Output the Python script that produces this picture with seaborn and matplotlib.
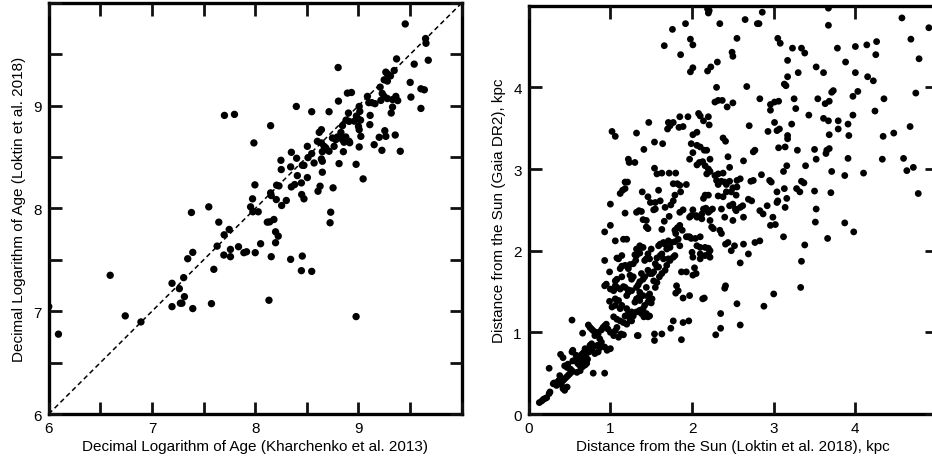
import matplotlib
matplotlib.use("Agg")
import matplotlib.pyplot as plt
import seaborn as sns
import pandas as pd
from matplotlib.ticker import MultipleLocator, FixedLocator

# ---------------- data: left panel (log age) ----------------
age_kharchenko = [
    9.453, 9.650, 9.654, 9.676, 9.540, 9.369, 8.803, 9.501, 9.605, 9.638, 9.508, 9.605,
    9.346, 9.265, 9.28, 9.31, 9.249, 9.28, 9.210, 9.249, 9.28, 9.33, 9.362, 9.38, 9.330, 9.317,
    9.255, 9.265, 9.356, 9.405, 9.227, 9.201, 9.152,
    9.087, 9.10, 9.13, 9.16, 9.217, 9.23, 9.113, 9.110,
    8.932, 8.893, 8.806,
    9.007, 9.013, 8.98, 8.99, 9.02, 8.96,
    8.903, 8.909, 8.88,
    9.000, 9.007, 9.023, 9.007, 9.045, 8.977, 8.977, 8.909, 8.915,
    8.845, 8.83, 8.796, 8.83, 8.845, 8.877, 8.86, 8.854, 8.812,
    8.748, 8.78, 8.764, 8.715, 8.715,
    8.641, 8.62, 8.602, 8.641, 8.667, 8.683, 8.650, 8.641, 8.650, 8.650, 8.628, 8.608, 8.754,
    8.731, 8.725,
    8.547, 8.505, 8.547, 8.570, 8.511, 8.505, 8.398, 8.401, 8.350, 8.343, 8.456, 8.472, 8.408,
    8.382, 8.350, 8.447, 8.450, 8.472, 8.249, 8.252, 8.149, 8.207, 8.23, 8.149, 8.155, 8.204,
    8.301, 8.256, 7.997, 7.974, 7.955, 7.977, 8.029, 7.987, 8.117, 8.14, 8.181, 8.197, 8.223,
    8.197, 8.052, 8.155, 8.133, 8.343, 8.456, 8.447, 8.547, 7.702, 7.799, 7.550, 7.647, 7.748,
    7.699, 7.631, 7.760, 7.838, 7.890, 7.916, 8.000, 7.696, 7.760, 7.599, 7.576, 7.382, 7.395,
    7.346, 7.307, 7.314, 7.194, 7.265, 7.275, 7.29, 7.194, 7.395, 6.595, 6.741, 6.893, 6.094,
    6.0,
]
age_loktin = [
    9.796, 9.654, 9.608, 9.443, 9.405, 9.456, 9.372, 9.227, 9.165, 9.155, 9.084, 8.974,
    9.343, 9.327, 9.31, 9.29, 9.252, 9.24, 9.181, 9.091, 9.07, 9.06, 9.091, 9.05, 8.987, 8.929,
    8.757, 8.702, 8.715, 8.557, 8.566, 8.693, 8.621,
    9.091, 9.03, 9.03, 9.02, 9.052, 9.12, 8.906, 8.816,
    9.129, 9.123, 9.045,
    8.993, 8.945, 8.90, 8.88, 8.86, 8.85,
    8.929, 8.848, 8.86,
    8.799, 8.767, 8.702, 8.599, 8.288, 8.430, 6.948, 8.654, 8.64,
    8.806, 8.74, 8.696, 8.69, 8.67, 8.696, 8.645, 8.553, 8.437,
    8.686, 8.67, 8.605, 8.557, 8.942,
    8.767, 8.741, 8.654, 8.638, 8.605, 8.59, 8.553, 8.482, 8.46, 8.353, 8.217, 8.168, 8.201,
    7.964, 7.861,
    8.942, 8.605, 8.534, 8.443, 8.495, 8.301, 8.993, 8.489, 8.547, 8.405, 8.421, 8.42, 8.320,
    8.233, 8.210, 8.249, 8.136, 8.094, 8.469, 8.379, 8.806, 8.227, 8.22, 8.152, 8.126, 8.087,
    8.078, 8.029, 8.230, 8.094, 8.016, 7.968, 7.968, 8.638, 7.867, 7.87, 7.893, 7.773, 7.731,
    7.667, 7.657, 7.531, 7.107, 7.505, 7.537, 7.395, 7.388, 8.906, 8.916, 8.016, 7.867, 7.796,
    7.744, 7.634, 7.602, 7.628, 7.570, 7.579, 7.570, 7.547, 7.531, 7.408, 7.074, 7.961, 7.573,
    7.511, 7.327, 7.142, 7.272, 7.220, 7.078, 7.078, 7.045, 7.026, 7.350, 6.955, 6.896, 6.777,
    7.045,
]
diagonal = [6, 10]

# ---------------- data: right panel (distances, kpc) ----------------
dist_pts = [
    # y >= 4
    (2.21,4.94),(2.20,4.91),(2.19,4.96),(2.34,4.78),(2.65,4.83),(2.80,4.78),(2.82,4.78),(2.86,4.92),
    (2.55,4.60),(2.50,4.38),(2.49,4.43),(2.31,4.31),(2.23,4.25),(2.19,4.20),(3.67,4.97),(3.67,4.76),
    (3.05,4.60),(3.08,4.54),(3.23,4.48),(3.34,4.48),(3.38,4.42),(3.17,4.33),(3.17,4.13),(3.13,4.04),
    (3.15,4.02),(3.30,4.18),(3.52,4.25),(3.61,4.18),(3.78,4.48),(3.88,4.31),(4.00,4.50),(4.14,4.52),
    (4.26,4.56),(4.25,4.40),(4.00,4.18),(4.15,4.13),(4.22,4.08),(4.57,4.85),(4.68,4.59),(4.78,4.35),
    (4.90,4.73),(2.30,4.00),(2.67,4.01),(1.66,4.51),(1.76,4.71),(1.92,4.78),(1.86,4.40),(1.98,4.59),
    (2.01,4.52),(2.01,4.24),(1.98,4.19),
    # 3 <= y < 4
    (1.02,3.46),(1.06,3.40),(1.32,3.44),(1.41,3.24),(1.22,3.12),(1.23,3.08),(1.30,3.08),(1.47,3.57),
    (1.54,3.33),(1.64,3.31),(1.71,3.57),(1.77,3.57),(1.73,3.53),(1.70,3.49),(1.85,3.64),(1.95,3.64),
    (1.84,3.51),(1.89,3.52),(2.08,3.68),(2.10,3.65),(2.14,3.59),(2.20,3.64),(2.21,3.54),(2.01,3.42),
    (2.06,3.45),(1.99,3.31),(2.06,3.29),(2.10,3.27),(2.15,3.23),(2.18,3.23),(2.01,3.20),(1.97,3.12),
    (2.09,3.08),(2.13,3.09),(2.16,3.04),(2.20,3.00),(2.06,3.05),(2.22,3.12),(1.54,3.01),(2.28,3.82),
    (2.32,3.84),(2.37,3.84),
    (2.83,3.86),(2.50,3.81),(2.43,3.76),(2.96,3.79),(3.01,3.82),(3.06,3.83),(2.96,3.72),(3.27,3.74),
    (3.25,3.86),(3.43,3.66),(3.54,3.86),(3.63,3.80),(3.68,3.83),(3.73,3.96),(3.71,3.94),(3.97,3.89),
    (4.03,3.95),(4.35,3.86),(4.74,3.93),(4.24,3.71),(3.97,3.66),(2.70,3.53),(3.01,3.57),(3.07,3.49),
    (3.04,3.47),(2.93,3.46),(3.22,3.55),(3.17,3.41),(3.17,3.37),(3.61,3.62),(3.67,3.59),(3.79,3.59),
    (3.79,3.49),(3.91,3.55),(3.68,3.42),(3.92,3.41),(4.34,3.40),(4.47,3.44),(4.67,3.52),(3.06,3.26),
    (3.14,3.27),(2.77,3.23),(2.75,3.21),(3.29,3.23),(3.50,3.24),(3.65,3.23),(3.64,3.19),(3.68,3.25),
    (3.91,3.13),(4.33,3.12),(4.59,3.13),(4.71,3.02),(3.52,3.12),(3.39,3.04),(3.16,3.04),(2.63,3.10),
    (2.38,3.38),(2.41,3.34),(2.44,3.15),(2.46,3.02),
    # 2 <= y < 3
    (1.00,2.57),(0.93,2.23),(1.00,2.31),(1.18,2.84),(1.21,2.84),(1.12,2.70),(1.15,2.74),(1.18,2.76),
    (1.39,2.72),(1.46,2.66),(1.49,2.59),(1.55,2.59),(1.61,2.61),(1.59,2.74),(1.53,2.50),(1.55,2.51),
    (1.77,2.82),(1.82,2.82),(1.85,2.80),(1.93,2.81),(1.79,2.68),(1.86,2.72),(1.77,2.61),(1.74,2.56),
    (1.67,2.53),(1.85,2.47),(1.18,2.46),(1.32,2.47),(1.38,2.48),(1.40,2.38),(1.44,2.29),(1.46,2.27),
    (1.63,2.26),(1.66,2.36),(1.72,2.42),(1.79,2.25),(1.82,2.28),(1.85,2.31),(1.88,2.25),(1.80,2.21),
    (1.83,2.14),(1.93,2.17),(1.95,2.17),(1.97,2.41),(2.05,2.43),(2.06,2.06),(2.10,2.04),(2.16,2.04),
    (2.20,2.03),(1.40,2.04),(1.50,2.02),(1.61,2.08),(1.59,2.06),(1.65,2.10),(1.85,2.06),(1.79,2.11),
    (1.63,2.95),(1.72,2.95),(1.80,2.95),(1.57,2.94),(1.35,2.49),(1.44,2.37),(1.89,2.50),(2.01,2.50),
    (1.99,2.43),(2.06,2.41),(2.20,2.47),(2.22,2.49),(2.25,2.51),(2.36,2.51),(2.14,2.51),(2.17,2.52),
    (2.12,2.45),(2.12,2.39),(2.22,2.37),(2.24,2.29),(2.26,2.27),(2.34,2.25),(2.36,2.21),(2.22,2.00),
    (1.97,2.17),(1.99,2.15),(2.04,2.15),(2.10,2.17),(1.71,2.12),(1.67,2.08),(1.75,2.10),(1.73,2.04),
    (1.69,2.02),(1.06,2.12),(1.16,2.14),(1.20,2.14),(1.32,2.02),(1.36,2.06),(1.38,2.04),
    (2.18,2.94),(2.22,2.97),(2.28,2.92),(2.32,2.94),(2.38,2.95),(2.30,2.86),(2.36,2.85),(2.32,2.81),
    (2.40,2.84),(2.42,2.81),(2.46,2.85),(2.55,2.86),(2.59,2.88),(2.50,2.77),(2.55,2.78),(2.48,2.72),
    (2.54,2.68),(2.42,2.72),(2.38,2.66),(2.16,2.68),(2.14,2.64),(2.20,2.68),(2.32,2.67),
    (2.53,2.51),(2.54,2.49),(2.59,2.53),(2.63,2.41),(2.50,2.37),(2.40,2.41),(2.44,2.10),(2.63,2.08),
    (2.77,2.10),(2.83,2.12),(2.69,2.63),(2.73,2.61),(2.75,2.86),(2.85,2.93),(2.95,2.86),(2.97,2.84),
    (2.46,2.55),(2.50,2.57),(2.83,2.49),(2.87,2.45),(2.96,2.31),(3.02,2.32),(2.99,2.41),(2.41,2.08),
    (2.48,2.00),(2.52,2.06),(2.62,2.55),(2.72,2.85),(2.92,2.55),
    (3.13,2.76),(3.16,2.64),(3.14,2.53),(3.28,2.76),(3.32,2.72),(3.50,2.73),(3.52,2.51),(3.51,2.35),
    (3.12,2.17),(3.38,2.07),(3.34,2.85),(3.37,2.83),(3.04,2.72),(3.05,2.61),(3.04,2.59),(3.70,2.71),
    (3.87,2.34),(3.98,2.23),(3.66,2.15),(4.77,2.70),(3.12,2.97),(3.71,2.97),(3.87,2.92),(4.10,2.95),
    (4.63,2.98),
    # 1 <= y < 2
    (2.59,1.85),(2.69,1.96),(3.34,1.87),(3.33,1.55),(3.00,1.47),(2.88,1.32),(2.55,1.35),(2.59,1.09),
    (2.41,1.57),(2.40,1.54),(2.35,1.23),(2.35,1.05),(2.29,0.97),(2.13,1.41),(2.15,1.42),(2.16,1.94),
    (2.10,1.96),(2.20,1.96),(2.22,1.92),
    (1.80,1.48),(1.89,1.42),(1.77,1.14),(1.74,1.05),(1.89,1.12),(1.96,1.14),(1.63,0.98),(1.87,0.91),
    (1.54,0.98),(1.54,0.90),(1.33,0.96),(1.50,1.36),(1.41,1.19),
    (0.93,1.88),(1.08,1.91),(1.14,1.81),(1.18,1.82),(1.24,1.83),(1.12,1.78),(0.99,1.74),(1.32,1.94),
    (1.30,1.95),(1.36,1.97),(1.48,1.90),(1.42,1.88),(1.57,1.91),(1.61,1.94),(1.63,1.96),(1.55,1.84),
    (1.59,1.80),(1.46,1.76),(1.48,1.72),(1.53,1.74),(1.42,1.68),(1.40,1.65),(1.36,1.62),(1.26,1.65),
    (1.24,1.70),(1.14,1.68),(1.06,1.57),(1.08,1.55),(1.12,1.53),(1.18,1.55),(1.22,1.52),(1.26,1.51),
    (1.32,1.55),(1.34,1.58),(1.36,1.49),(1.40,1.45),(1.46,1.44),(1.48,1.47),(1.60,1.68),(1.63,1.72),
    (1.67,1.76),(1.69,1.82),(1.73,1.88),(1.77,1.92),(1.79,1.94),(1.71,1.90),(1.93,1.74),(2.01,1.70),
    (2.05,1.72),(1.81,1.57),(1.83,1.51),(1.97,1.45),(2.00,1.98),(2.01,1.92),(2.10,1.90),(2.03,1.79),
    (1.87,1.74),
    (1.02,1.31),(1.06,1.33),(1.12,1.29),(1.14,1.33),(1.20,1.29),(1.22,1.23),(1.26,1.25),(1.28,1.20),
    (1.24,1.16),(1.26,1.14),(1.32,1.25),(1.36,1.27),(1.38,1.23),(1.40,1.29),(1.44,1.23),(1.46,1.19),
    (1.48,1.20),(1.42,1.33),(1.46,1.37),(1.51,1.41),(1.32,1.41),(1.35,1.43),(1.20,1.45),(1.22,1.49),
    (1.06,1.41),(1.10,1.39),(0.93,1.57),(0.95,1.59),(1.00,1.53),(1.04,1.51),(1.06,1.63),(1.08,1.65),
    (1.16,1.56),(1.28,1.68),(1.38,1.72),(1.44,1.55),(1.53,1.63),(1.57,1.61),(1.55,1.55),(1.51,1.72),
    (1.57,1.80),(1.65,1.90),(1.28,1.84),(1.31,1.88),(1.22,1.78),(1.10,1.90),(1.14,1.94),(1.44,1.90),
    (1.46,1.96),(1.04,1.19),(1.08,1.16),(1.12,1.14),(1.16,1.12),(1.20,1.10),(1.18,1.20),(1.30,1.37),
    (1.36,1.39),(0.99,1.38),(0.53,1.15),(1.34,0.96),
    # y < 1 (dense diagonal)
    (0.13,0.14),(0.16,0.16),(0.18,0.18),(0.20,0.19),(0.22,0.20),(0.25,0.25),(0.26,0.27),(0.25,0.56),
    (0.30,0.37),(0.31,0.38),(0.34,0.35),(0.36,0.40),(0.37,0.41),(0.40,0.43),(0.38,0.47),(0.42,0.41),
    (0.44,0.43),(0.46,0.45),(0.48,0.47),(0.50,0.49),(0.52,0.51),(0.53,0.53),(0.44,0.29),(0.42,0.31),
    (0.47,0.33),(0.39,0.73),(0.42,0.69),(0.44,0.59),(0.47,0.57),(0.51,0.55),(0.48,0.61),(0.53,0.76),
    (0.54,0.78),
    (0.57,0.66),(0.60,0.68),(0.62,0.70),(0.64,0.72),(0.66,0.74),(0.68,0.76),(0.70,0.78),(0.60,0.62),
    (0.63,0.64),(0.65,0.66),(0.68,0.68),(0.70,0.70),(0.71,0.62),(0.69,0.60),(0.66,0.58),(0.62,0.60),
    (0.58,0.72),(0.66,0.64),(0.72,0.67),(0.54,0.65),
    (0.59,0.51),(0.63,0.53),(0.79,0.50),(0.93,0.50),(0.74,0.76),(0.77,0.78),(0.79,0.82),(0.75,0.84),
    (0.66,0.99),(0.73,1.09),(0.75,1.06),(0.77,1.04),(0.79,1.02),(0.83,1.00),(0.81,0.96),(0.85,0.98),
    (0.87,0.92),(0.89,0.88),(0.93,0.82),(0.96,0.78),(0.84,0.84),(0.87,0.81),(0.89,1.03),(0.91,1.06),
    (0.93,1.08),(0.95,1.10),(0.97,1.04),(1.00,1.00),(1.04,0.96),(1.06,1.02),(1.08,1.06),(1.10,0.94),
    (1.13,0.98),(1.16,0.97),(0.81,0.74),(0.85,0.76),(1.00,0.80),(0.69,0.80),(0.77,0.86),(0.40,0.36),
]
dist_loktin = [p[0] for p in dist_pts]
dist_gaia = [p[1] for p in dist_pts]

left_xlabel = "Decimal Logarithm of Age (Kharchenko et al. 2013)"
left_ylabel = "Decimal Logarithm of Age (Loktin et al. 2018)"
right_xlabel = "Distance from the Sun (Loktin et al. 2018), kpc"
right_ylabel = "Distance from the Sun (Gaia DR2), kpc"

# ---------------- style ----------------
sns.set_style("ticks")
plt.rcParams.update({
    "font.family": ["Liberation Sans", "DejaVu Sans"],
    "font.size": 11,
    "xtick.labelsize": 11, "ytick.labelsize": 11,
    "xtick.direction": "in", "ytick.direction": "in",
    "xtick.top": True, "ytick.right": True,
    "xtick.bottom": True, "ytick.left": True,
    "xtick.major.size": 9, "ytick.major.size": 9,
    "xtick.minor.size": 9, "ytick.minor.size": 9,
    "xtick.major.width": 2.0, "ytick.major.width": 2.0,
    "xtick.minor.width": 2.0, "ytick.minor.width": 2.0,
    "xtick.major.pad": 5, "ytick.major.pad": 5,
    "xtick.minor.pad": 5, "ytick.minor.pad": 5,
    "xtick.color": "#111111", "ytick.color": "#111111",
    "xtick.labelcolor": "black", "ytick.labelcolor": "black",
    "axes.labelcolor": "black",
    "axes.edgecolor": "black",
    "axes.linewidth": 2.4,
    "axes.axisbelow": False,
})

fig = plt.figure(figsize=(9.32, 4.64), dpi=100)
ax1 = fig.add_axes([0.0523, 0.1056, 0.4431, 0.8858])
ax2 = fig.add_axes([0.5673, 0.1056, 0.4381, 0.8800])

df_age = pd.DataFrame({"kh": age_kharchenko, "lo": age_loktin})
df_dist = pd.DataFrame({"lo": dist_loktin, "gaia": dist_gaia})
df_diag = pd.DataFrame({"x": diagonal, "y": diagonal})

sns.lineplot(data=df_diag, x="x", y="y", ax=ax1, color="black", lw=1.1,
             linestyle=(0, (3.2, 2.2)))
sns.scatterplot(data=df_age, x="kh", y="lo", ax=ax1, color="black", s=28,
                linewidth=0, edgecolor="none")
sns.scatterplot(data=df_dist, x="lo", y="gaia", ax=ax2, color="black", s=24,
                linewidth=0, edgecolor="none")

ax1.set_xlim(6, 10)
ax1.set_ylim(6, 10)
ax1.xaxis.set_major_locator(FixedLocator([6, 7, 8, 9]))
ax1.yaxis.set_major_locator(FixedLocator([6, 7, 8, 9]))
ax1.xaxis.set_minor_locator(MultipleLocator(0.5))
ax1.yaxis.set_minor_locator(MultipleLocator(0.5))

ax2.set_xlim(0, 5)
ax2.set_ylim(0, 5)
ax2.xaxis.set_major_locator(FixedLocator([0, 1, 2, 3, 4]))
ax2.yaxis.set_major_locator(FixedLocator([0, 1, 2, 3, 4]))

for ax in (ax1, ax2):
    ax.set_axisbelow(False)
    ax.xaxis.set_zorder(4)
    ax.yaxis.set_zorder(4)
    ax.tick_params(which="both", direction="in", length=9, width=2.0,
                   color="#111111", top=True, right=True, bottom=True, left=True)

ax1.set_xlabel(left_xlabel, fontsize=11, labelpad=3)
ax1.set_ylabel(left_ylabel, fontsize=11, labelpad=5)
ax2.set_xlabel(right_xlabel, fontsize=11, labelpad=3)
ax2.set_ylabel(right_ylabel, fontsize=11, labelpad=5)

fig.savefig("out.png", dpi=100)
